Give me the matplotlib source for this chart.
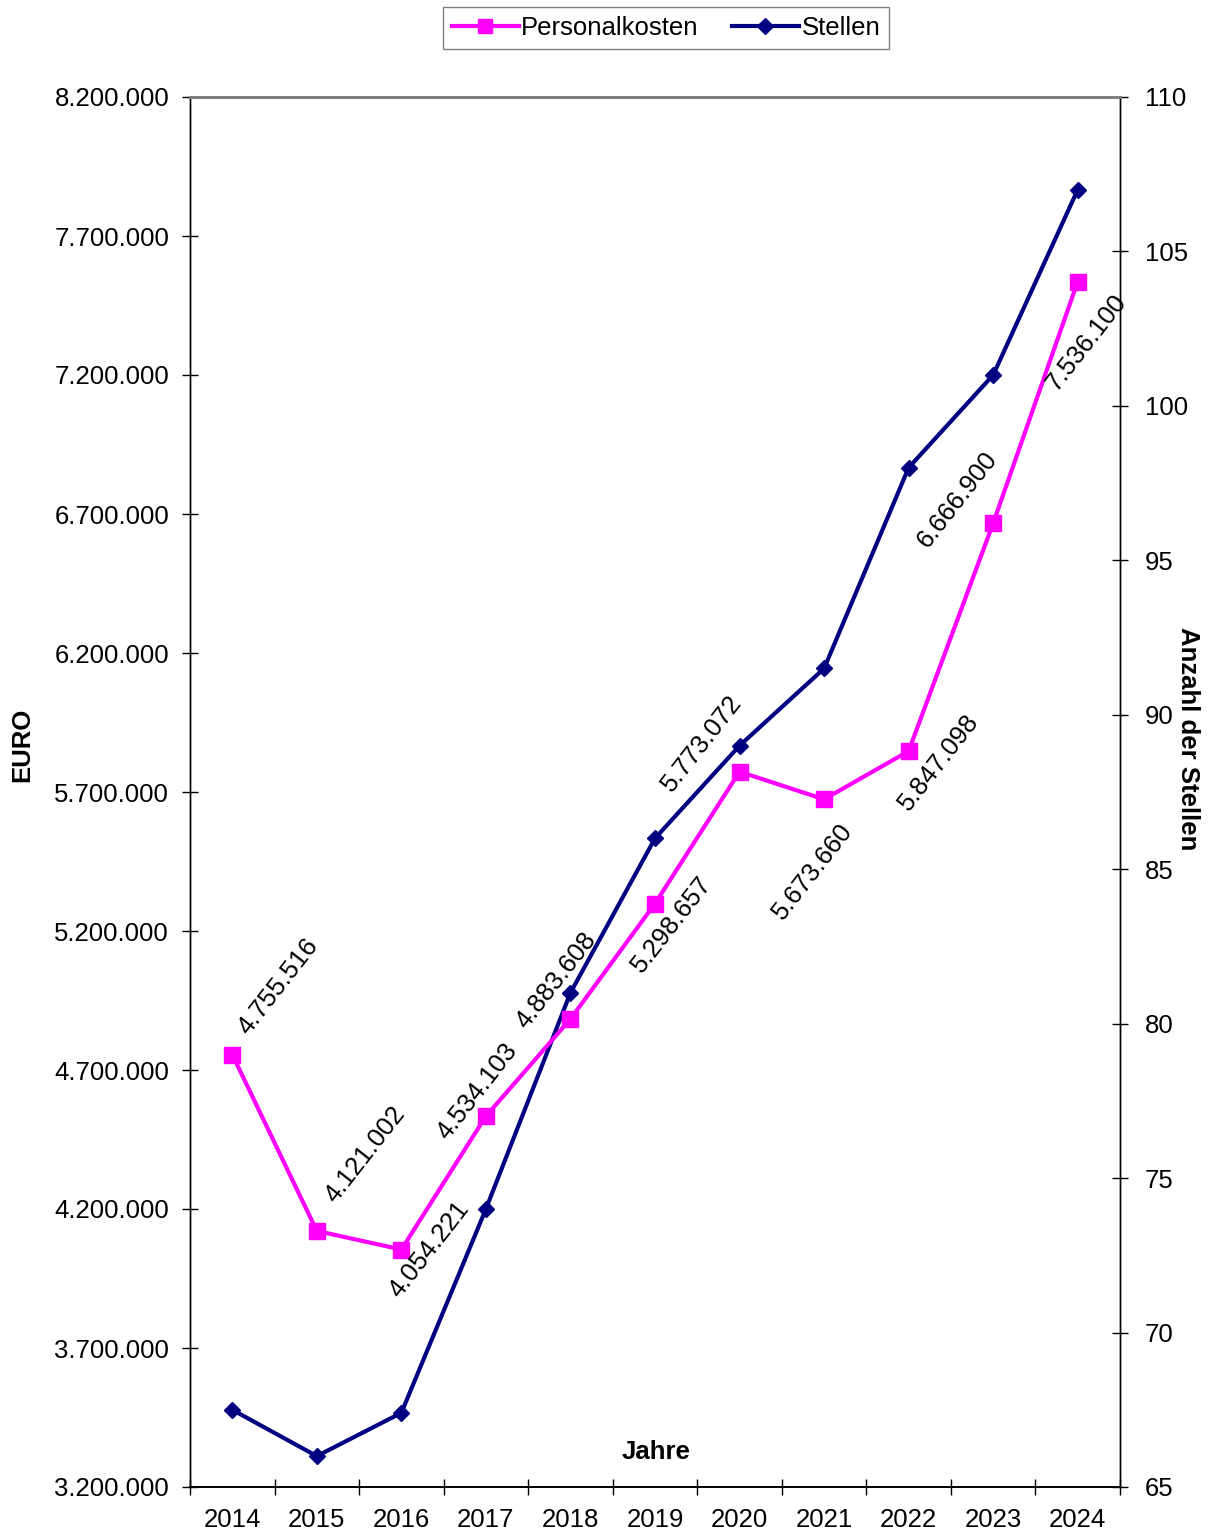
import matplotlib
matplotlib.use("Agg")
import matplotlib.pyplot as plt
from matplotlib.ticker import FixedLocator, FuncFormatter

plt.rcParams['font.family'] = ['Liberation Sans', 'DejaVu Sans']

years = ["2014", "2015", "2016", "2017", "2018", "2019", "2020", "2021", "2022", "2023", "2024"]
personalkosten = [4755516, 4121002, 4054221, 4534103, 4883608, 5298657, 5773072, 5673660, 5847098, 6666900, 7536100]
stellen = [67.5, 66, 67.4, 74, 81, 86, 89, 91.5, 98, 101, 107]

# label offsets in pixels (dx, dy upward)
label_offsets = [(46, 68), (48, 76), (28, 0), (-9, 25), (-14, 38), (17, -21),
                 (-38, 28), (-11, -72), (30, -11), (-36, 24), (9, -61)]

W, H = 1212, 1533
fig = plt.figure(figsize=(W / 100, H / 100), dpi=100)
ax = fig.add_axes([190 / W, 1 - 1487 / H, (1120 - 190) / W, (1487 - 97) / H])
ax2 = ax.twinx()

x = list(range(len(years)))
fs = 18.5

l1, = ax.plot(x, personalkosten, color='#FF00FF', lw=3, marker='s', ms=11.5,
              label='Personalkosten', zorder=3)
l2, = ax2.plot(x, stellen, color='#000080', lw=3, marker='D', ms=8.5,
               label='Stellen', zorder=3)

ax.set_zorder(ax2.get_zorder() + 1)
ax.patch.set_visible(False)

ax.set_xlim(-0.5, len(years) - 0.5)
ax.set_ylim(3200000, 8200000)
ax2.set_ylim(65, 110)

ax.set_yticks([3200000 + 500000 * i for i in range(11)])
ax.yaxis.set_major_formatter(FuncFormatter(lambda v, p: f"{v:,.0f}".replace(",", ".")))
ax2.set_yticks([65 + 5 * i for i in range(10)])

ax.set_xticks(x)
ax.set_xticklabels(years)
ax.xaxis.set_minor_locator(FixedLocator([i - 0.5 for i in range(len(years) + 1)]))
ax.tick_params(axis='x', which='major', length=0, labelsize=fs, pad=15)
ax.tick_params(axis='x', which='minor', direction='inout', length=12, width=1)
ax.tick_params(axis='y', direction='inout', length=12, width=1, labelsize=fs, pad=9)
ax2.tick_params(axis='y', direction='inout', length=12, width=1, labelsize=fs, pad=12)

for a in (ax, ax2):
    a.spines['top'].set_color('#808080')
    a.spines['top'].set_linewidth(2)
    a.spines['bottom'].set_color('black')
    a.spines['bottom'].set_linewidth(1.2)
    a.spines['left'].set_linewidth(1)
    a.spines['right'].set_linewidth(1)

for xi, v, off in zip(x, personalkosten, label_offsets):
    ax.annotate(f"{v:,.0f}".replace(",", "."), xy=(xi, v), xytext=off,
                textcoords='offset pixels', ha='center', va='center',
                rotation=52, rotation_mode='anchor', fontsize=fs, zorder=5)

fig.text(22 / W, 1 - 745 / H, "EURO", rotation=90, ha='center', va='center',
         fontsize=fs, fontweight='bold')
fig.text(1188 / W, 1 - 739 / H, "Anzahl der Stellen", rotation=-90, ha='center',
         va='center', fontsize=fs, fontweight='bold')
fig.text(656 / W, 1 - 1452 / H, "Jahre", ha='center', va='center',
         fontsize=fs, fontweight='bold')

leg = fig.legend(handles=[l1, l2], loc='center', bbox_to_anchor=(666 / W, 1 - 28 / H),
                 ncol=2, fontsize=fs, frameon=True, fancybox=False,
                 handlelength=2.6, handletextpad=0.1, columnspacing=1.3,
                 borderpad=0.35, borderaxespad=0, markerscale=0.9)
leg.get_frame().set_edgecolor('#606060')
leg.get_frame().set_linewidth(1)

fig.savefig("out.png", dpi=100)
